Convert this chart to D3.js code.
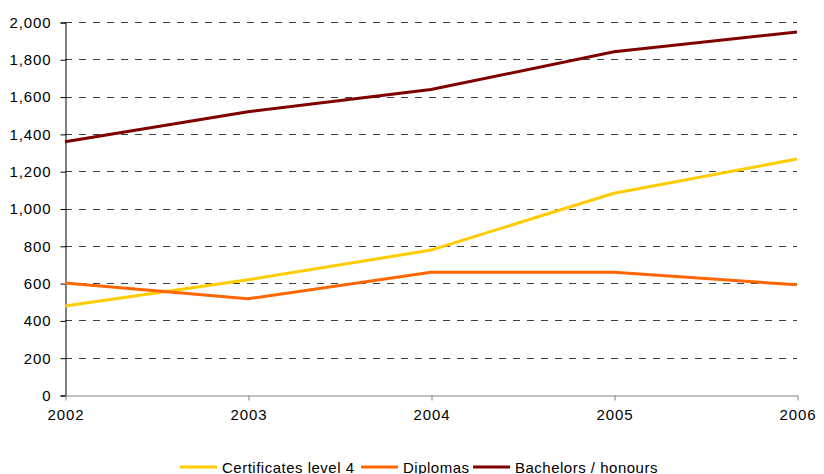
<!DOCTYPE html>
<html>
<head>
<meta charset="utf-8">
<script src="https://cdn.jsdelivr.net/npm/d3@7"></script>
<style>
  html, body { margin: 0; padding: 0; background: #fff; }
  svg { display: block; font-family: "Liberation Sans", Arial, sans-serif; }
</style>
</head>
<body>
<svg id="chart" width="824" height="474"></svg>
<script>
// Qualifications completed by level, 2002–2006
const years = [2002, 2003, 2004, 2005, 2006];
const certificates = [477, 618, 777, 1082, 1265];
const diplomas = [600, 516, 658, 658, 591];
const bachelors = [1358, 1519, 1638, 1840, 1947];
const yTicks = [0, 200, 400, 600, 800, 1000, 1200, 1400, 1600, 1800, 2000];

const seriesNames = ["Certificates level 4", "Diplomas", "Bachelors / honours"];
const seriesColors = ["#FFCC00", "#FF6600", "#800000"];
const series = [certificates, diplomas, bachelors].map((vals, i) => ({
  name: seriesNames[i], color: seriesColors[i], values: vals
}));

const svg = d3.select("#chart");
const plotLeft = 65, plotRight = 797, plotTop = 22, plotBottom = 395;
const fontFamily = "'Liberation Sans', Arial, sans-serif";

const x = d3.scalePoint().domain(years).range([plotLeft, plotRight]);
const y = d3.scaleLinear().domain([0, 2000]).range([plotBottom, plotTop]);
const fmt = d3.format(",");

// horizontal dashed gridlines
svg.append("g")
  .selectAll("line")
  .data(yTicks.filter(d => d > 0))
  .join("line")
  .attr("x1", plotLeft).attr("x2", plotRight)
  .attr("y1", d => Math.round(y(d)) + 0.5).attr("y2", d => Math.round(y(d)) + 0.5)
  .attr("stroke", "#404040")
  .attr("stroke-width", 1)
  .attr("stroke-dasharray", "7,7");

// y axis
const yAxis = d3.axisLeft(y).tickValues(yTicks).tickFormat(fmt).tickSize(5).tickPadding(9);
const gy = svg.append("g").attr("transform", `translate(${plotLeft + 0.5},0.5)`).call(yAxis);
gy.select(".domain").attr("stroke", "#000");
gy.selectAll(".tick line").attr("stroke", "#000");
gy.selectAll(".tick text")
  .attr("font-size", 15).attr("fill", "#000")
  .attr("letter-spacing", 0.9)
  .attr("font-family", fontFamily);

// x axis
const xAxis = d3.axisBottom(x).tickFormat(d3.format("d")).tickSize(5).tickPadding(9).tickSizeOuter(0);
const gx = svg.append("g").attr("transform", `translate(0.5,${plotBottom + 0.5})`).call(xAxis);
gx.select(".domain").attr("stroke", "#808080");
gx.selectAll(".tick line").attr("stroke", "#808080");
gx.selectAll(".tick text")
  .attr("font-size", 15).attr("fill", "#000")
  .attr("letter-spacing", 0.9)
  .attr("font-family", fontFamily);

// series lines
const line = d3.line().x((d, i) => x(years[i])).y(d => y(d));
svg.append("g")
  .selectAll("path")
  .data(series)
  .join("path")
  .attr("d", d => line(d.values))
  .attr("fill", "none")
  .attr("stroke", d => d.color)
  .attr("stroke-width", 3)
  .attr("stroke-linejoin", "round");

// legend
const legendX = [180, 361, 473];
const legendY = 467;
const lg = svg.append("g")
  .selectAll("g")
  .data(series)
  .join("g")
  .attr("transform", (d, i) => `translate(${legendX[i]},${legendY})`);
lg.append("line")
  .attr("x1", 0).attr("x2", 37).attr("y1", 0).attr("y2", 0)
  .attr("stroke", d => d.color).attr("stroke-width", 3);
lg.append("text")
  .attr("x", 42).attr("y", 5.5)
  .attr("font-size", 15).attr("fill", "#000")
  .attr("letter-spacing", 0.5)
  .attr("font-family", fontFamily)
  .text(d => d.name);
</script>
</body>
</html>
